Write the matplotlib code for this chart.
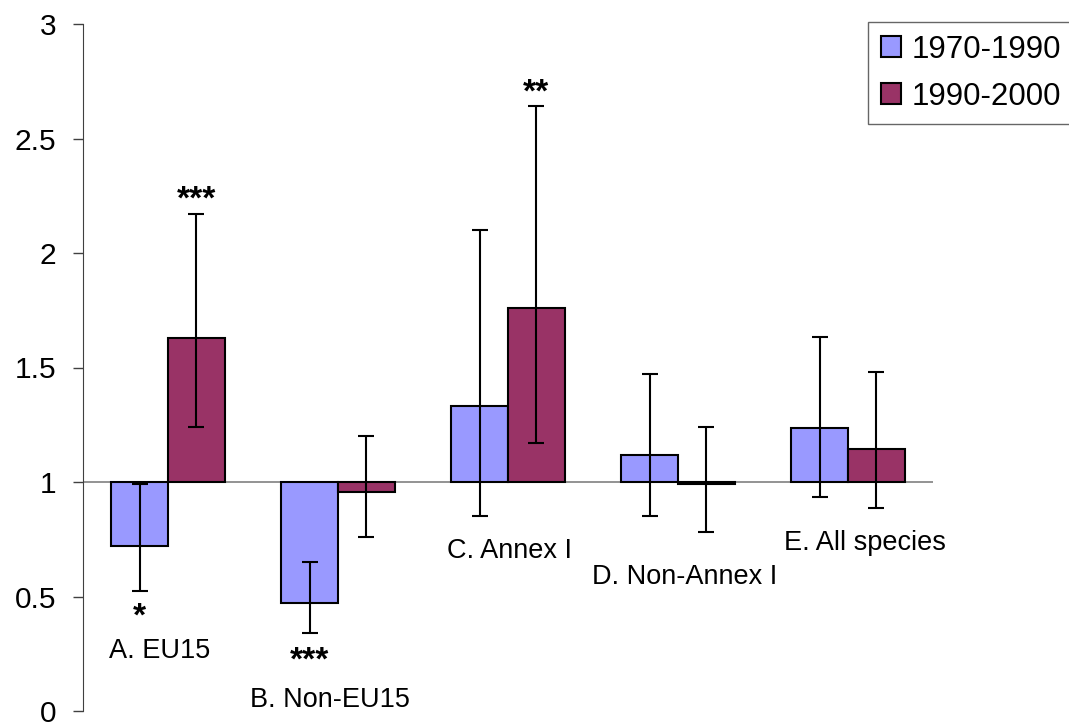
import matplotlib
matplotlib.use("Agg")
import matplotlib.pyplot as plt
import numpy as np

plt.rcParams['font.family'] = ['Liberation Sans', 'DejaVu Sans']

categories = ['A. EU15', 'B. Non-EU15', 'C. Annex I', 'D. Non-Annex I', 'E. All species']
series = ['1970-1990', '1990-2000']
vals_7090 = [0.72, 0.47, 1.33, 1.12, 1.235]
vals_9000 = [1.63, 0.955, 1.76, 0.99, 1.145]
hi_7090 = [0.99, 0.65, 2.10, 1.47, 1.635]
lo_7090 = [0.525, 0.34, 0.85, 0.85, 0.935]
hi_9000 = [2.17, 1.20, 2.64, 1.24, 1.48]
lo_9000 = [1.24, 0.76, 1.17, 0.78, 0.885]
# label positions (data y) for category names
label_y = [0.26, 0.05, 0.70, 0.585, 0.735]
label_dx = [-0.05, -0.05, 0.01, 0.04, 0.10]
# significance stars: (category, series index, text, y)
stars = [(0, 0, '*', 0.41), (0, 1, '***', 2.23), (1, 0, '***', 0.22), (2, 1, '**', 2.70)]

c1 = '#9999FF'
c2 = '#993366'
w = 0.335
x = np.arange(len(categories))

fig = plt.figure(figsize=(10.69, 7.22), dpi=100)
ax = fig.add_axes([83/1069, 1-711/722, 850/1069, 687/722])

ax.axhline(1, color='#808080', lw=1.2, zorder=1)

for vals, lo, hi, col, off, lab in [(vals_7090, lo_7090, hi_7090, c1, -w/2, series[0]),
                                    (vals_9000, lo_9000, hi_9000, c2, w/2, series[1])]:
    v = np.array(vals)
    ax.bar(x + off, v - 1, bottom=1, width=w, color=col, edgecolor='black', lw=1.5, label=lab, zorder=2)
    err = [v - np.array(lo), np.array(hi) - v]
    ax.errorbar(x + off, v, yerr=err, fmt='none', ecolor='black', elinewidth=1.5,
                capsize=6, capthick=1.5, zorder=3)

for i, name in enumerate(categories):
    ax.text(x[i] + label_dx[i], label_y[i], name, ha='center', va='center', fontsize=19.5)

for ci, si, s, yy in stars:
    off = -w/2 if si == 0 else w/2
    ax.text(x[ci] + off, yy, s, ha='center', va='center', fontsize=24, fontweight='bold')

ax.set_xlim(-0.5, 4.5)
ax.set_ylim(0, 3)
ax.set_yticks([0, 0.5, 1, 1.5, 2, 2.5, 3])
ax.set_yticklabels(['0', '0.5', '1', '1.5', '2', '2.5', '3'])
ax.set_xticks([])
for s in ['top', 'right', 'bottom']:
    ax.spines[s].set_visible(False)
ax.spines['left'].set_color('#404040')
ax.tick_params(axis='y', length=7, width=1, color='#404040', labelsize=21.5, pad=12)

leg = fig.legend(loc='upper left', bbox_to_anchor=(868/1069, 1-22/722), fontsize=22.5,
                 frameon=True, fancybox=False, edgecolor='#404040', handlelength=0.65,
                 handleheight=0.65, handletextpad=0.35, borderpad=0.4, labelspacing=0.55,
                 borderaxespad=0)
leg.get_frame().set_linewidth(1)

fig.savefig('out.png', dpi=100)
